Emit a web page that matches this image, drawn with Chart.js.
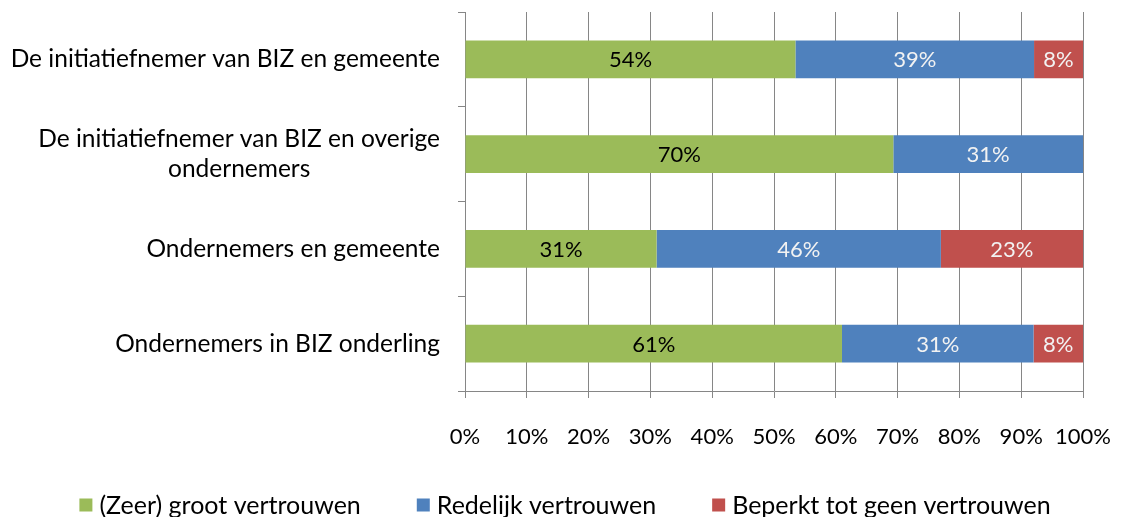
<!DOCTYPE html>
<html lang="nl">
<head>
<meta charset="UTF-8">
<title>Vertrouwen tussen partijen</title>
<script src="https://cdn.jsdelivr.net/npm/chart.js"></script>
<style>
    html, body { margin: 0; padding: 0; background: #fff; }
    .chart-wrap { width: 1122px; height: 517px; }
</style>
</head>
<body>
<div class="chart-wrap"><canvas id="chart"></canvas></div>
<script>
// Data (values as shown in the bar labels; bars are drawn as 100% stacked)
const categories = [
    'De initiatiefnemer van BIZ en gemeente',
    ['De initiatiefnemer van BIZ en overige', 'ondernemers'],
    'Ondernemers en gemeente',
    'Ondernemers in BIZ onderling'
];
const seriesNames = ['(Zeer) groot vertrouwen', 'Redelijk vertrouwen', 'Beperkt tot geen vertrouwen'];
const zeerGroot = [54, 70, 31, 61];
const redelijk = [39, 31, 46, 31];
const beperkt = [8, 0, 23, 8];
const xTicks = [0, 10, 20, 30, 40, 50, 60, 70, 80, 90, 100];

const colors = ['#9BBB59', '#4F81BD', '#C0504D'];
const labelColors = ['#000000', '#F2F2F2', '#F2F2F2'];
const TEXT_FONT = '24.5px Lato';
const LEGEND_FONT = '25px Lato';
const NUM_FONT = '22px Lato';
const GRID = '#868686';

const totals = categories.map((c, i) => zeerGroot[i] + redelijk[i] + beperkt[i]);
const share = arr => arr.map((v, i) => v / totals[i] * 100);

// value labels in the middle of each segment
const barLabels = {
    id: 'barLabels',
    afterDatasetsDraw(chart) {
        const ctx = chart.ctx;
        ctx.save();
        ctx.font = NUM_FONT;
        ctx.textAlign = 'center';
        ctx.textBaseline = 'middle';
        chart.data.datasets.forEach((ds, di) => {
            chart.getDatasetMeta(di).data.forEach((bar, i) => {
                const raw = ds.rawValues[i];
                if (!raw) return;
                ctx.fillStyle = ds.labelColor;
                ctx.fillText(raw + '%', (bar.x + bar.base) / 2, bar.y + 1);
            });
        });
        ctx.restore();
    }
};

// category labels: block right aligned, lines centred on each other
const categoryLabels = {
    id: 'categoryLabels',
    afterDraw(chart) {
        const ctx = chart.ctx;
        const yScale = chart.scales.y;
        const right = chart.chartArea.left - 25;
        ctx.save();
        ctx.font = TEXT_FONT;
        ctx.fillStyle = '#000';
        ctx.textAlign = 'center';
        ctx.textBaseline = 'middle';
        categories.forEach((label, i) => {
            const lines = Array.isArray(label) ? label : [label];
            const widest = Math.max(...lines.map(l => ctx.measureText(l).width));
            const cx = right - widest / 2;
            const cy = yScale.getPixelForValue(i);
            lines.forEach((line, j) => {
                ctx.fillText(line, cx, cy + (j - (lines.length - 1) / 2) * 30);
            });
        });
        ctx.restore();
    }
};

// legend under the chart
const bottomLegend = {
    id: 'bottomLegend',
    afterDraw(chart) {
        const ctx = chart.ctx;
        const box = 13, gap = 7, spacing = 56, y = 505;
        ctx.save();
        ctx.font = LEGEND_FONT;
        ctx.textBaseline = 'middle';
        ctx.textAlign = 'left';
        const widths = seriesNames.map(n => box + gap + ctx.measureText(n).width);
        const total = widths.reduce((a, b) => a + b, 0) + spacing * (widths.length - 1);
        let x = chart.width / 2 + 4 - total / 2;
        seriesNames.forEach((name, i) => {
            ctx.fillStyle = colors[i];
            ctx.fillRect(x, y - box / 2, box, box);
            ctx.fillStyle = '#000';
            ctx.fillText(name, x + box + gap, y + 1);
            x += widths[i] + spacing;
        });
        ctx.restore();
    }
};

const seriesValues = [zeerGroot, redelijk, beperkt];

new Chart(document.getElementById('chart'), {
    type: 'bar',
    data: {
        labels: categories,
        datasets: seriesValues.map((vals, i) => ({
            label: seriesNames[i],
            data: share(vals),
            rawValues: vals,
            labelColor: labelColors[i],
            backgroundColor: colors[i],
            borderWidth: 0,
            categoryPercentage: 1,
            barPercentage: 0.4
        }))
    },
    options: {
        indexAxis: 'y',
        responsive: true,
        maintainAspectRatio: false,
        animation: false,
        layout: { padding: { top: 12, right: 39, bottom: 66, left: 0 } },
        plugins: {
            legend: { display: false },
            tooltip: { enabled: false }
        },
        scales: {
            x: {
                stacked: true,
                min: 0,
                max: 100,
                afterBuildTicks: s => { s.ticks = xTicks.map(v => ({ value: v })); },
                afterFit: s => {
                    s.height = 60;
                    s.paddingLeft = 0;
                    s.paddingRight = 0;
                },
                grid: { color: GRID, lineWidth: 1, tickLength: 7 },
                border: { color: GRID, width: 1 },
                ticks: {
                    padding: 26,
                    color: '#000',
                    font: { family: 'Lato', size: 22 },
                    maxRotation: 0,
                    autoSkip: false,
                    callback: v => v + '%'
                }
            },
            y: {
                stacked: true,
                offset: true,
                afterFit: s => { s.width = 465; },
                grid: { offset: true, drawOnChartArea: false, drawTicks: true, tickLength: 7, color: GRID },
                border: { color: GRID, width: 1 },
                ticks: { display: false }
            }
        }
    },
    plugins: [barLabels, categoryLabels, bottomLegend]
});
</script>
</body>
</html>
